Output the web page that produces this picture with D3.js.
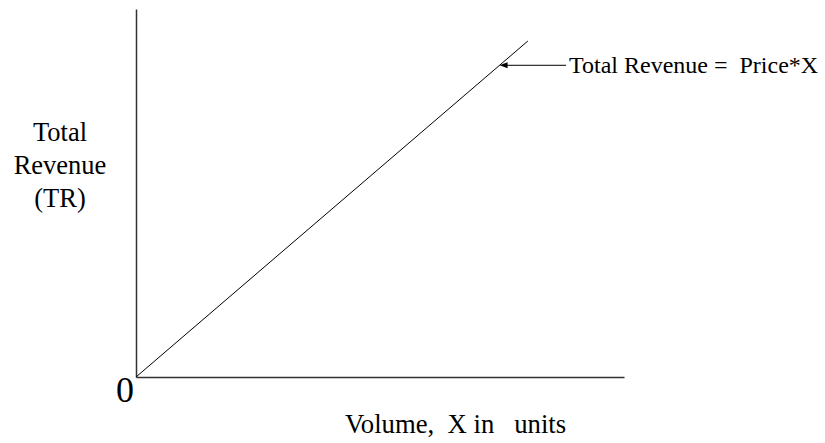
<!DOCTYPE html>
<html>
<head>
<meta charset="utf-8">
<script src="https://cdn.jsdelivr.net/npm/d3@7"></script>
<style>
  body { margin: 0; background: #fff; }
</style>
</head>
<body>
<svg width="825" height="443"></svg>
<script>
let width = 825;
let height = 443;

// dados: TR = preço * volume
let volume = [0, 8.03];
let revenue = [0, 9.13];
let xMax = 10;
let yMax = 10;
let annotVolume = 7.45;
let annotText = "Total Revenue =  Price*X";
let yLabel = ["Total", "Revenue", "(TR)"];
let xLabel = "Volume,  X in   units";
let originLabel = "0";

let serif = "'Liberation Serif', 'Times New Roman', Times, 'DejaVu Serif', serif";

let svg = d3.select("svg");

let x = d3.scaleLinear().domain([0, xMax]).range([136, 624]);
let y = d3.scaleLinear().domain([0, yMax]).range([377, 9]);

let price = revenue[1] / volume[1];

// eixos sem ticks
svg.append("g")
  .attr("transform", `translate(0,${y(0)})`)
  .call(d3.axisBottom(x).ticks(0).tickSize(0))
  .call(g => g.select(".domain").attr("stroke", "#333").attr("stroke-width", 1.5));

svg.append("g")
  .attr("transform", `translate(${x(0)},0)`)
  .call(d3.axisLeft(y).ticks(0).tickSize(0))
  .call(g => g.select(".domain").attr("stroke", "#333").attr("stroke-width", 1.5));

// linha de receita
let line = d3.line().x(d => x(d[0])).y(d => y(d[1]));
svg.append("path")
  .datum(volume.map((v, i) => [v, revenue[i]]))
  .attr("d", line)
  .attr("fill", "none")
  .attr("stroke", "#000")
  .attr("stroke-width", 1);

// seta da anotação
let ax = x(annotVolume), ay = y(annotVolume * price);
svg.append("line")
  .attr("x1", ax + 6).attr("y1", ay)
  .attr("x2", 566).attr("y2", ay)
  .attr("stroke", "#000")
  .attr("stroke-width", 1);

svg.append("path")
  .attr("d", `M${ax},${ay} L${ax + 8},${ay - 3} L${ax + 8},${ay + 3} Z`)
  .attr("fill", "#000");

function addText(tx, ty, size, str) {
  return svg.append("text")
    .attr("x", tx).attr("y", ty)
    .attr("font-size", size)
    .style("font-family", serif)
    .style("white-space", "pre")
    .attr("fill", "#000")
    .text(str);
}

addText(569, ay + 8, 24, annotText);

// rótulos
let yl = svg.append("text")
  .attr("x", 60).attr("y", 141)
  .attr("text-anchor", "middle")
  .attr("font-size", 26.5)
  .style("font-family", serif)
  .attr("fill", "#000");
yl.selectAll("tspan")
  .data(yLabel)
  .enter()
  .append("tspan")
  .attr("x", 60)
  .attr("dy", (d, i) => i === 0 ? 0 : 33)
  .text(d => d);

addText(345, 433, 26.7, xLabel);

addText(134, 402, 36, originLabel).attr("text-anchor", "end");
</script>
</body>
</html>
